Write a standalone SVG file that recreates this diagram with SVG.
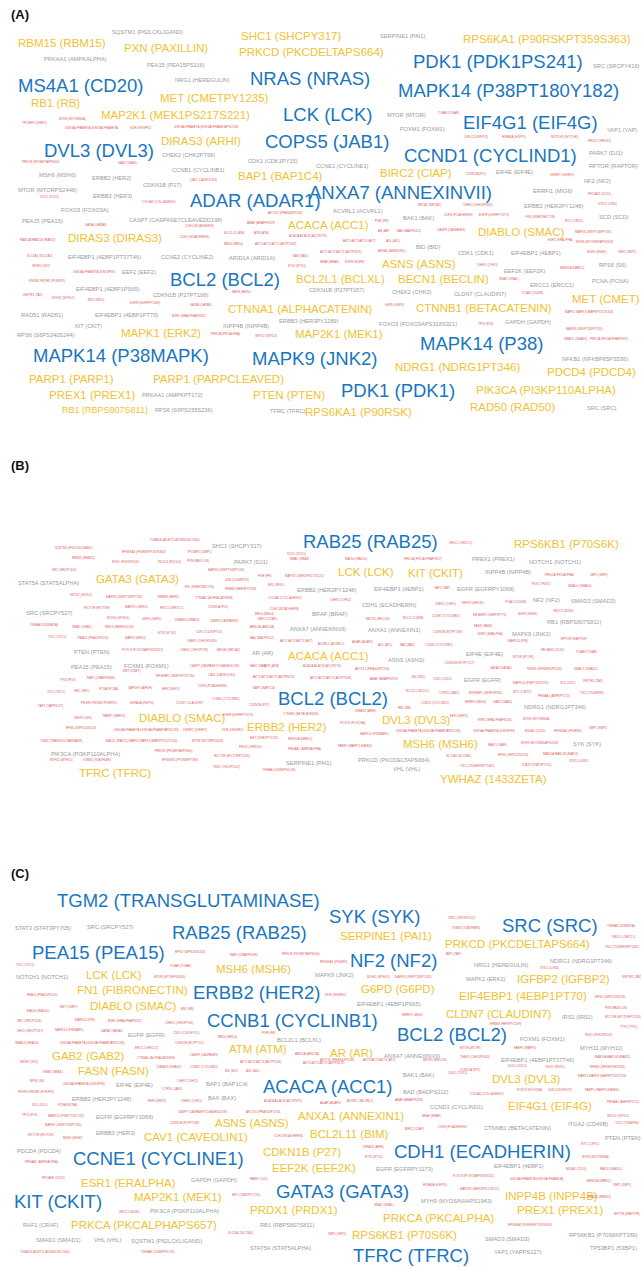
<svg xmlns="http://www.w3.org/2000/svg" width="641" height="1268" viewBox="0 0 641 1268">
<style>
text{font-family:"Liberation Sans",Arial,Helvetica,sans-serif}
.lbl{font-size:13px;font-weight:bold;fill:#111}
.b{font-size:18.5px;fill:#1976c0}
.y{font-size:11.5px;fill:#f2c231}
.g{font-size:5.7px;fill:#9a9a9a}
.r{font-size:3px;fill:#e0605e}
</style>
<rect width="641" height="1268" fill="#fff"/>
<g id="panelA">
<text class="lbl" x="11" y="19">(A)</text>
<text class="b" x="18" y="92">MS4A1 (CD20)</text>
<text class="b" x="250" y="85">NRAS (NRAS)</text>
<text class="b" x="413" y="68">PDK1 (PDK1PS241)</text>
<text class="b" x="398" y="97">MAPK14 (P38PT180Y182)</text>
<text class="b" x="283" y="121">LCK (LCK)</text>
<text class="b" x="463" y="129">EIF4G1 (EIF4G)</text>
<text class="b" x="44" y="157">DVL3 (DVL3)</text>
<text class="b" x="265" y="148">COPS5 (JAB1)</text>
<text class="b" x="404" y="162">CCND1 (CYCLIND1)</text>
<text class="b" x="190" y="207">ADAR (ADAR1)</text>
<text class="b" x="309" y="199">ANXA7 (ANNEXINVII)</text>
<text class="b" x="170" y="286">BCL2 (BCL2)</text>
<text class="b" x="33" y="362">MAPK14 (P38MAPK)</text>
<text class="b" x="252" y="365">MAPK9 (JNK2)</text>
<text class="b" x="420" y="350">MAPK14 (P38)</text>
<text class="b" x="341" y="397">PDK1 (PDK1)</text>
<text class="y" x="18" y="47">RBM15 (RBM15)</text>
<text class="y" x="124" y="52">PXN (PAXILLIN)</text>
<text class="y" x="241" y="40">SHC1 (SHCPY317)</text>
<text class="y" x="239" y="56">PRKCD (PKCDELTAPS664)</text>
<text class="y" x="463" y="43">RPS6KA1 (P90RSKPT359S363)</text>
<text class="y" x="31" y="107">RB1 (RB)</text>
<text class="y" x="160" y="102">MET (CMETPY1235)</text>
<text class="y" x="101" y="119">MAP2K1 (MEK1PS217S221)</text>
<text class="y" x="161" y="145">DIRAS3 (ARHI)</text>
<text class="y" x="238" y="180">BAP1 (BAP1C4)</text>
<text class="y" x="380" y="177">BIRC2 (CIAP)</text>
<text class="y" x="288" y="229">ACACA (ACC1)</text>
<text class="y" x="68" y="242">DIRAS3 (DIRAS3)</text>
<text class="y" x="478" y="236">DIABLO (SMAC)</text>
<text class="y" x="382" y="268">ASNS (ASNS)</text>
<text class="y" x="296" y="283">BCL2L1 (BCLXL)</text>
<text class="y" x="398" y="283">BECN1 (BECLIN)</text>
<text class="y" x="572" y="303">MET (CMET)</text>
<text class="y" x="228" y="313">CTNNA1 (ALPHACATENIN)</text>
<text class="y" x="416" y="312">CTNNB1 (BETACATENIN)</text>
<text class="y" x="121" y="337">MAPK1 (ERK2)</text>
<text class="y" x="295" y="338">MAP2K1 (MEK1)</text>
<text class="y" x="395" y="371">NDRG1 (NDRG1PT346)</text>
<text class="y" x="547" y="376">PDCD4 (PDCD4)</text>
<text class="y" x="29" y="383">PARP1 (PARP1)</text>
<text class="y" x="153" y="383">PARP1 (PARPCLEAVED)</text>
<text class="y" x="476" y="394">PIK3CA (PI3KP110ALPHA)</text>
<text class="y" x="49" y="399">PREX1 (PREX1)</text>
<text class="y" x="253" y="399">PTEN (PTEN)</text>
<text class="y" x="62" y="413" style="font-size:9px">RB1 (RBPS807S811)</text>
<text class="y" x="305" y="416">RPS6KA1 (P90RSK)</text>
<text class="y" x="470" y="411">RAD50 (RAD50)</text>
<text class="g" x="112" y="34">SQSTM1 (P62LCKLIGAND)</text>
<text class="g" x="380" y="38">SERPINE1 (PAI1)</text>
<text class="g" x="44" y="61">PRKAA1 (AMPKALPHA)</text>
<text class="g" x="147" y="67">PEA15 (PEA15PS116)</text>
<text class="g" x="593" y="68">SRC (SRCPY416)</text>
<text class="g" x="175" y="82">NRG1 (HEREGULIN)</text>
<text class="g" x="387" y="117">MTOR (MTOR)</text>
<text class="g" x="400" y="131">FOXM1 (FOXM1)</text>
<text class="g" x="607" y="132">YAP1 (YAP)</text>
<text class="g" x="589" y="155">PARK7 (DJ1)</text>
<text class="g" x="162" y="157">CHEK2 (CHK2PT68)</text>
<text class="g" x="248" y="163">CDK1 (CDK1PY15)</text>
<text class="g" x="316" y="168">CCNE1 (CYCLINE1)</text>
<text class="g" x="589" y="168">RPTOR (RAPTOR)</text>
<text class="g" x="172" y="172">CCNB1 (CYCLINB1)</text>
<text class="g" x="496" y="174">EIF4E (EIF4E)</text>
<text class="g" x="39" y="177">MSH6 (MSH6)</text>
<text class="g" x="92" y="180">ERBB2 (HER2)</text>
<text class="g" x="584" y="183">NF2 (NF2)</text>
<text class="g" x="143" y="187">CDKN1B (P27)</text>
<text class="g" x="18" y="192">MTOR (MTORPS2448)</text>
<text class="g" x="533" y="193">ERRFI1 (MIG6)</text>
<text class="g" x="93" y="198">ERBB3 (HER3)</text>
<text class="g" x="524" y="208">ERBB2 (HER2PY1248)</text>
<text class="g" x="61" y="212">FOXO3 (FOXO3A)</text>
<text class="g" x="333" y="213">ACVRL1 (ACVRL1)</text>
<text class="g" x="599" y="219">SCD (SCD)</text>
<text class="g" x="403" y="220">BAK1 (BAK)</text>
<text class="g" x="129" y="222">CASP7 (CASPASE7CLEAVEDD198)</text>
<text class="g" x="22" y="223">PEA15 (PEA15)</text>
<text class="g" x="416" y="249">BID (BID)</text>
<text class="g" x="458" y="255">CDK1 (CDK1)</text>
<text class="g" x="511" y="255">EIF4EBP1 (4EBP1)</text>
<text class="g" x="68" y="259">EIF4EBP1 (4EBP1PT37T46)</text>
<text class="g" x="161" y="259">CCNE2 (CYCLINE2)</text>
<text class="g" x="229" y="260">ARID1A (ARID1A)</text>
<text class="g" x="599" y="267">RPS6 (S6)</text>
<text class="g" x="504" y="273">EEF2K (EEF2K)</text>
<text class="g" x="122" y="274">EEF2 (EEF2)</text>
<text class="g" x="592" y="283">PCNA (PCNA)</text>
<text class="g" x="530" y="287">ERCC1 (ERCC1)</text>
<text class="g" x="76" y="291">EIF4EBP1 (4EBP1PS65)</text>
<text class="g" x="309" y="292">CDKN1B (P27PT157)</text>
<text class="g" x="392" y="294">CHEK2 (CHK2)</text>
<text class="g" x="454" y="296">CLDN7 (CLAUDIN7)</text>
<text class="g" x="153" y="297">CDKN1B (P27PT198)</text>
<text class="g" x="21" y="317">RAD51 (RAD51)</text>
<text class="g" x="95" y="317">EIF4EBP1 (4EBP1PT70)</text>
<text class="g" x="279" y="323">ERBB3 (HER3PY1289)</text>
<text class="g" x="505" y="324">GAPDH (GAPDH)</text>
<text class="g" x="379" y="326">FOXO3 (FOXO3APS318S321)</text>
<text class="g" x="75" y="328">KIT (CKIT)</text>
<text class="g" x="223" y="328">INPP4B (INPP4B)</text>
<text class="g" x="17" y="337">RPS6 (S6PS240S244)</text>
<text class="g" x="562" y="361">NFKB1 (NFKBP65PS536)</text>
<text class="g" x="142" y="397">PRKAA1 (AMPKPT172)</text>
<text class="g" x="587" y="410">SRC (SRC)</text>
<text class="g" x="155" y="412">RPS6 (S6PS235S236)</text>
<text class="g" x="270" y="413">TFRC (TFRC)</text>
<text class="r" x="22" y="124">TP53BP1 (53BP1)</text>
<text class="r" x="59" y="120">MYH9 (MYOSINIIA)</text>
<text class="r" x="65" y="129">GSK3ALPHABETA (GSK3ALPHABETA)</text>
<text class="r" x="130" y="129">KDR (VEGFR2)</text>
<text class="r" x="174" y="128">GSK3ALPHABETA (GSK3ALPHABETAPS21S9)</text>
<text class="r" x="22" y="163">PRKCB (PKCBETAIIPS660)</text>
<text class="r" x="118" y="164">GAB2 (GAB2)</text>
<text class="r" x="190" y="181">CAV1 (CAVEOLIN1)</text>
<text class="r" x="40" y="198">SCD1 (SCD1)</text>
<text class="r" x="142" y="203">COL6A1 (COLLAGENVI)</text>
<text class="r" x="438" y="114">TIGAR (TIGAR)</text>
<text class="r" x="464" y="138">JUN (CJUNPS73)</text>
<text class="r" x="502" y="138">HSPA1A (HSP70)</text>
<text class="r" x="551" y="138">NOTCH1 (NOTCH1)</text>
<text class="r" x="588" y="142">PRDX1 (PRDX1)</text>
<text class="r" x="466" y="175">CDKN1A (P21)</text>
<text class="r" x="550" y="176">IGFBP2 (IGFBP2)</text>
<text class="r" x="588" y="195">PECAM1 (CD31)</text>
<text class="r" x="268" y="214">AKT1S1 (PRAS40PT246)</text>
<text class="r" x="85" y="226">GATA6 (GATA6)</text>
<text class="r" x="247" y="224">ARAF (ARAFPS299)</text>
<text class="r" x="185" y="227">CDH1 (ECADHERIN)</text>
<text class="r" x="20" y="241">RAB11A RAB11B (RAB11)</text>
<text class="r" x="180" y="238">CDH2 (NCADHERIN)</text>
<text class="r" x="224" y="234">BCL2L11 (BIM)</text>
<text class="r" x="254" y="234">ATM (ATM)</text>
<text class="r" x="289" y="237">ACACA ACACB (ACCPS79)</text>
<text class="r" x="224" y="245">BRD4 (BRD4)</text>
<text class="r" x="255" y="245">AKT1 AKT2 AKT3 (AKTPT308)</text>
<text class="r" x="27" y="257">SLC1A5 (SLC1A5)</text>
<text class="r" x="293" y="257">BAX (BAX)</text>
<text class="r" x="288" y="267">ETS1 (ETS1)</text>
<text class="r" x="32" y="267">SRSF1 (SF2)</text>
<text class="r" x="73" y="273">GSK3ALPHABETA (GSK3PS9)</text>
<text class="r" x="29" y="282">PIK3R1 PIK3R2 (PI3KP85)</text>
<text class="r" x="23" y="296">WWTR1 (TAZ)</text>
<text class="r" x="52" y="299">MYH11 (MYH11)</text>
<text class="r" x="88" y="301">IRS1 (IRS1)</text>
<text class="r" x="130" y="304">EGFR (EGFRPY1068)</text>
<text class="r" x="232" y="293">FASN (FASN)</text>
<text class="r" x="190" y="306">GATA3 (GATA3)</text>
<text class="r" x="172" y="317">ESR1 (ERALPHAPS118)</text>
<text class="r" x="211" y="335">PRKCA (PKCALPHA)</text>
<text class="r" x="255" y="337">SETD2 (SETD2)</text>
<text class="r" x="418" y="206">BRCA2 (BRCA2)</text>
<text class="r" x="463" y="206">CHEK1 (CHK1PS345)</text>
<text class="r" x="598" y="205">STK11 (LKB1)</text>
<text class="r" x="444" y="216">CDH3 (PCADHERIN)</text>
<text class="r" x="479" y="216">EGFR (EGFRPY1173)</text>
<text class="r" x="526" y="218">FN1 (FIBRONECTIN)</text>
<text class="r" x="565" y="222">MYC (CMYC)</text>
<text class="r" x="375" y="222">PGR (PR)</text>
<text class="r" x="378" y="232">AR (AR)</text>
<text class="r" x="397" y="232">BAD (BADPS112)</text>
<text class="r" x="437" y="231">CASP9 (CASPASE9)</text>
<text class="r" x="575" y="233">MAPK8 (JNKPT183PY185)</text>
<text class="r" x="343" y="242">AKT1 AKT2 AKT3 (AKT)</text>
<text class="r" x="386" y="242">AXL (AXL)</text>
<text class="r" x="548" y="241">ESR1 (ERALPHA)</text>
<text class="r" x="576" y="243">MYH9 (MYOSINIIAPS1943)</text>
<text class="r" x="320" y="253">AKT1 AKT2 AKT3 (AKTPS473)</text>
<text class="r" x="378" y="252">ANXA1 (ANNEXIN1)</text>
<text class="r" x="587" y="253">MSH2 (MSH2)</text>
<text class="r" x="618" y="253">XBP1 (XBP1)</text>
<text class="r" x="320" y="263">BRAF (BRAF)</text>
<text class="r" x="345" y="263">EGFR (EGFR)</text>
<text class="r" x="477" y="266">CHEK1 (CHK1)</text>
<text class="r" x="560" y="269">MRE11A (MRE11)</text>
<text class="r" x="499" y="280">SNAI1 (SNAIL)</text>
<text class="r" x="522" y="294">ITGA2 (CD49B)</text>
<text class="r" x="385" y="306">G6PD (G6PD)</text>
<text class="r" x="565" y="313">MAPK1 MAPK3 (MAPKPT202Y204)</text>
<text class="r" x="478" y="325">TP53 (P53)</text>
<text class="r" x="566" y="330">MAPK8 (JNKPT183PY185)</text>
<text class="r" x="564" y="340">SMAD1 (SMAD1)</text>
<text class="r" x="590" y="340">PRKCA (PKCALPHAPS657)</text>
</g>
<g id="panelB">
<text class="lbl" x="11" y="470">(B)</text>
<text class="b" x="303" y="548">RAB25 (RAB25)</text>
<text class="b" x="278" y="705">BCL2 (BCL2)</text>
<text class="y" x="96" y="583">GATA3 (GATA3)</text>
<text class="y" x="514" y="548">RPS6KB1 (P70S6K)</text>
<text class="y" x="338" y="576">LCK (LCK)</text>
<text class="y" x="408" y="577">KIT (CKIT)</text>
<text class="y" x="288" y="660">ACACA (ACC1)</text>
<text class="y" x="139" y="722">DIABLO (SMAC)</text>
<text class="y" x="247" y="731">ERBB2 (HER2)</text>
<text class="y" x="382" y="724">DVL3 (DVL3)</text>
<text class="y" x="403" y="748">MSH6 (MSH6)</text>
<text class="y" x="79" y="777">TFRC (TFRC)</text>
<text class="y" x="440" y="783">YWHAZ (1433ZETA)</text>
<text class="g" x="212" y="548">SHC1 (SHCPY317)</text>
<text class="g" x="234" y="564">PARK7 (DJ1)</text>
<text class="g" x="18" y="585">STAT5A (STAT5ALPHA)</text>
<text class="g" x="297" y="592">ERBB2 (HER2PY1248)</text>
<text class="g" x="26" y="615">SRC (SRCPY527)</text>
<text class="g" x="312" y="616">BRAF (BRAF)</text>
<text class="g" x="290" y="631">ANXA7 (ANNEXINVII)</text>
<text class="g" x="472" y="561">PREX1 (PREX1)</text>
<text class="g" x="529" y="564">NOTCH1 (NOTCH1)</text>
<text class="g" x="485" y="574">INPP4B (INPP4B)</text>
<text class="g" x="374" y="591">EIF4EBP1 (4EBP1)</text>
<text class="g" x="457" y="591">EGFR (EGFRPY1068)</text>
<text class="g" x="533" y="602">NF2 (NF2)</text>
<text class="g" x="571" y="603">SMAD3 (SMAD3)</text>
<text class="g" x="362" y="607">CDH1 (ECADHERIN)</text>
<text class="g" x="547" y="624">RB1 (RBPS807S811)</text>
<text class="g" x="368" y="632">ANXA1 (ANNEXIN1)</text>
<text class="g" x="512" y="636">MAPK9 (JNK2)</text>
<text class="g" x="74" y="654">PTEN (PTEN)</text>
<text class="g" x="252" y="655">AR (AR)</text>
<text class="g" x="71" y="669">PEA15 (PEA15)</text>
<text class="g" x="124" y="668">FOXM1 (FOXM1)</text>
<text class="g" x="51" y="756">PIK3CA (PI3KP110ALPHA)</text>
<text class="g" x="286" y="765">SERPINE1 (PAI1)</text>
<text class="g" x="388" y="662">ASNS (ASNS)</text>
<text class="g" x="466" y="656">EIF4E (EIF4E)</text>
<text class="g" x="464" y="682">EGFR (EGFR)</text>
<text class="g" x="524" y="709">NDRG1 (NDRG1PT346)</text>
<text class="g" x="573" y="746">SYK (SYK)</text>
<text class="g" x="358" y="762">PRKCD (PKCDELTAPS664)</text>
<text class="g" x="393" y="771">VHL (VHL)</text>
<text class="r" x="150" y="541">TUBA1B (ACETYLATUBULINLYS40)</text>
<text class="r" x="55" y="549">SQSTM1 (P62LCKLIGAND)</text>
<text class="r" x="122" y="553">RPS6KA1 (P90RSKPT359S363)</text>
<text class="r" x="187" y="553">TP53BP1 (53BP1)</text>
<text class="r" x="72" y="559">RBM15 (RBM15)</text>
<text class="r" x="112" y="563">PDK1 (PDK1PS241)</text>
<text class="r" x="158" y="563">PDCD4 (PDCD4)</text>
<text class="r" x="187" y="562">PXN (PAXILLIN)</text>
<text class="r" x="287" y="555">SCD1 (SCD1)</text>
<text class="r" x="52" y="571">SRC (SRCPY416)</text>
<text class="r" x="208" y="571">MAPK8 (JNKPT183PY185)</text>
<text class="r" x="290" y="560">NRAS (NRAS)</text>
<text class="r" x="225" y="581">JUN (CJUNPS73)</text>
<text class="r" x="258" y="577">PGR (PR)</text>
<text class="r" x="268" y="586">IRS1 (IRS1)</text>
<text class="r" x="285" y="577">MAP2K1 (MEK1PS217S221)</text>
<text class="r" x="185" y="588">FN1 (FIBRONECTIN)</text>
<text class="r" x="225" y="590">ERBB3 (HER3PY1289)</text>
<text class="r" x="70" y="596">SETD2 (SETD2)</text>
<text class="r" x="106" y="598">MAPK8 (JNKPT183PY185)</text>
<text class="r" x="158" y="598">ERBB3 (HER3)</text>
<text class="r" x="195" y="599">CTNNA1 (ALPHACATENIN)</text>
<text class="r" x="268" y="599">COL6A1 (COLLAGENVI)</text>
<text class="r" x="84" y="609">RICTOR (RICTOR)</text>
<text class="r" x="125" y="608">MAP2K1 (MEK1)</text>
<text class="r" x="160" y="609">ERCC1 (ERCC1)</text>
<text class="r" x="208" y="608">CDKN1A (P21)</text>
<text class="r" x="270" y="610">CDH2 (NCADHERIN)</text>
<text class="r" x="107" y="619">MYH11 (MYH11)</text>
<text class="r" x="142" y="620">G6PD (G6PD)</text>
<text class="r" x="175" y="621">DIRAS3 (DIRAS3)</text>
<text class="r" x="210" y="622">CASP8 (CASPASE8)</text>
<text class="r" x="255" y="615">BRD4 (BRD4)</text>
<text class="r" x="258" y="620">BIRC2 (CIAP)</text>
<text class="r" x="30" y="626">YWHAB (1433BETA)</text>
<text class="r" x="72" y="628">SNAI1 (SNAIL)</text>
<text class="r" x="105" y="628">NRG1 (HEREGULIN)</text>
<text class="r" x="250" y="628">ARID1A (ARID1A)</text>
<text class="r" x="196" y="633">CDK1 (CDK1PY15)</text>
<text class="r" x="158" y="634">ETS1 (ETS1)</text>
<text class="r" x="250" y="639">BAD (BADPS112)</text>
<text class="r" x="280" y="642">AKT1 AKT2 AKT3 (AKT)</text>
<text class="r" x="48" y="638">TSC1 (TSC1)</text>
<text class="r" x="78" y="639">PEA15 (PEA15PS116)</text>
<text class="r" x="125" y="639">MAPK1 (ERK2)</text>
<text class="r" x="187" y="642">CHEK1 (CHK1PS345)</text>
<text class="r" x="449" y="544">XRCC1 (XRCC1)</text>
<text class="r" x="345" y="560">RAD50 (RAD50)</text>
<text class="r" x="404" y="560">PRKCA (PKCALPHAPS657)</text>
<text class="r" x="545" y="576">PRKCA (PKCALPHA)</text>
<text class="r" x="590" y="576">XBP1 (XBP1)</text>
<text class="r" x="434" y="589">YAP1 (YAP)</text>
<text class="r" x="532" y="585">PDK1 (PDK1)</text>
<text class="r" x="568" y="587">SMAD4 (SMAD4)</text>
<text class="r" x="330" y="601">CHEK2 (CHK2)</text>
<text class="r" x="435" y="605">CHEK1 (CHK1)</text>
<text class="r" x="462" y="604">EEF2K (EEF2K)</text>
<text class="r" x="505" y="603">ITGA2 (CD49B)</text>
<text class="r" x="366" y="620">BECN1 (BECLIN)</text>
<text class="r" x="403" y="619">BCL2L11 (BIM)</text>
<text class="r" x="432" y="617">CCNE2 (CYCLINE2)</text>
<text class="r" x="473" y="616">EIF4EBP1 (4EBP1PT70)</text>
<text class="r" x="518" y="615">MSH2 (MSH2)</text>
<text class="r" x="553" y="612">XRCC5 (KU80)</text>
<text class="r" x="474" y="627">FASN (FASN)</text>
<text class="r" x="433" y="633">CDKN1B (P27PT198)</text>
<text class="r" x="478" y="635">ESR1 (ERALPHA)</text>
<text class="r" x="352" y="643">ADAR (ADAR1)</text>
<text class="r" x="378" y="646">AXL (AXL)</text>
<text class="r" x="400" y="646">BAX (BAX)</text>
<text class="r" x="425" y="646">CCNE1 (CYCLINE1)</text>
<text class="r" x="508" y="642">MAPK14 (P38)</text>
<text class="r" x="561" y="640">RPTOR (RAPTOR)</text>
<text class="r" x="318" y="645">ACVRL1 (ACVRL1)</text>
<text class="r" x="122" y="651">FOXO3 (FOXO3APS318S321)</text>
<text class="r" x="180" y="651">CHEK2 (CHK2PT68)</text>
<text class="r" x="217" y="651">BRCA2 (BRCA2)</text>
<text class="r" x="123" y="672">MET (CMET)</text>
<text class="r" x="190" y="667">CASP7 (CASPASE7CLEAVEDD198)</text>
<text class="r" x="250" y="667">BAK1 (BAK)</text>
<text class="r" x="264" y="667">ATM (ATM)</text>
<text class="r" x="303" y="667">ACACA ACACB (ACCPS79)</text>
<text class="r" x="60" y="681">TP53 (P53)</text>
<text class="r" x="87" y="679">RAF1 (CRAFPS338)</text>
<text class="r" x="156" y="677">EIF4EBP1 (4EBP1PT37T46)</text>
<text class="r" x="208" y="676">CAV1 (CAVEOLIN1)</text>
<text class="r" x="253" y="678">AKT1 AKT2 AKT3 (AKTPS473)</text>
<text class="r" x="310" y="679">AKT1 AKT2 AKT3 (AKTPT308)</text>
<text class="r" x="47" y="693">TSC1 (TSC1)</text>
<text class="r" x="74" y="692">SRC (SRC)</text>
<text class="r" x="99" y="690">PCNA (PCNA)</text>
<text class="r" x="128" y="689">GAPDH (GAPDH)</text>
<text class="r" x="162" y="690">EEF2 (EEF2)</text>
<text class="r" x="198" y="687">CDH3 (PCADHERIN)</text>
<text class="r" x="253" y="689">BAP1 (BAP1C4)</text>
<text class="r" x="38" y="707">YAP1 (YAPPS127)</text>
<text class="r" x="81" y="704">PIK3R1 PIK3R2 (PI3KP85)</text>
<text class="r" x="130" y="704">HSPA1A (HSP70)</text>
<text class="r" x="176" y="704">CLDN7 (CLAUDIN7)</text>
<text class="r" x="212" y="700">CCNB1 (CYCLINB1)</text>
<text class="r" x="249" y="706">CDKN1B (P27)</text>
<text class="r" x="74" y="719">SRSF1 (SF2)</text>
<text class="r" x="103" y="717">PARP1 (PARP1)</text>
<text class="r" x="223" y="716">EGFR (EGFRPY1173)</text>
<text class="r" x="283" y="715">CTNNB1 (BETACATENIN)</text>
<text class="r" x="66" y="729">RPS6 (S6PS240S244)</text>
<text class="r" x="114" y="731">GSK3ALPHABETA (GSK3ALPHABETAPS21S9)</text>
<text class="r" x="183" y="731">IGFBP2 (IGFBP2)</text>
<text class="r" x="222" y="731">KDR (VEGFR2)</text>
<text class="r" x="40" y="742">TGM2 (TRANSGLUTAMINASE)</text>
<text class="r" x="106" y="742">RAD51 (RAD51)</text>
<text class="r" x="129" y="742">MAPK1 MAPK3 (MAPKPT202Y204)</text>
<text class="r" x="192" y="742">MTOR (MTORPS2448)</text>
<text class="r" x="250" y="739">MET (CMETPY1235)</text>
<text class="r" x="288" y="740">MRE11A (MRE11)</text>
<text class="r" x="155" y="752">PRKCB (PKCBETAIIPS660)</text>
<text class="r" x="239" y="748">PRDX1 (PRDX1)</text>
<text class="r" x="288" y="750">PRKAA1 (AMPKALPHA)</text>
<text class="r" x="214" y="757">RICTOR (RICTORPT1135)</text>
<text class="r" x="162" y="761">RPS6KB1 (P70S6KPT389)</text>
<text class="r" x="50" y="761">MYH11 (MYH11)</text>
<text class="r" x="83" y="761">STMN1 (STATHMIN)</text>
<text class="r" x="213" y="768">YBX1 (YBX1PS102)</text>
<text class="r" x="262" y="771">YWHAE (1433EPSILON)</text>
<text class="r" x="541" y="651">PECAM1 (CD31)</text>
<text class="r" x="576" y="653">TIGAR (TIGAR)</text>
<text class="r" x="513" y="658">MTOR (MTOR)</text>
<text class="r" x="445" y="664">CDKN1B (P27PT157)</text>
<text class="r" x="490" y="669">GATA6 (GATA6)</text>
<text class="r" x="527" y="670">NFKB1 (NFKBP65PS536)</text>
<text class="r" x="574" y="670">SMAD1 (SMAD1)</text>
<text class="r" x="355" y="670">AKT1S1 (PRAS40PT246)</text>
<text class="r" x="370" y="680">ARAF (ARAFPS299)</text>
<text class="r" x="412" y="678">BID (BID)</text>
<text class="r" x="433" y="680">CDK1 (CDK1)</text>
<text class="r" x="513" y="684">MAPK14 (P38PT180Y182)</text>
<text class="r" x="560" y="684">SCD (SCD)</text>
<text class="r" x="583" y="682">WWTR1 (TAZ)</text>
<text class="r" x="406" y="692">BCL2L1 (BCLXL)</text>
<text class="r" x="439" y="694">COPS5 (JAB1)</text>
<text class="r" x="469" y="694">EIF4EBP1 (4EBP1PS65)</text>
<text class="r" x="513" y="693">MYC (CMYC)</text>
<text class="r" x="538" y="697">PRKAA1 (AMPKPT172)</text>
<text class="r" x="580" y="694">TSC2 (TUBERIN)</text>
<text class="r" x="421" y="704">CCND1 (CYCLIND1)</text>
<text class="r" x="465" y="703">ERRFI1 (MIG6)</text>
<text class="r" x="493" y="703">GAB2 (GAB2)</text>
<text class="r" x="398" y="709">RB1 (RB)</text>
<text class="r" x="355" y="712">DIRAS3 (ARHI)</text>
<text class="r" x="450" y="717">EEF2 (EEF2)</text>
<text class="r" x="478" y="721">ESR1 (ERALPHAPS118)</text>
<text class="r" x="523" y="720">MYH9 (MYOSINIIA)</text>
<text class="r" x="340" y="724">FOXO3 (FOXO3A)</text>
<text class="r" x="360" y="735">MAPK14 (P38MAPK)</text>
<text class="r" x="396" y="732">GSK3ALPHABETA (GSK3ALPHABETAPS21S9)</text>
<text class="r" x="473" y="732">GSK3ALPHABETA (GSK3PS9)</text>
<text class="r" x="525" y="732">MS4A1 (CD20)</text>
<text class="r" x="554" y="732">RPS6KA1 (P90RSK)</text>
<text class="r" x="589" y="729">XBP1 (XBP1)</text>
<text class="r" x="338" y="747">PARP1 (PARPCLEAVED)</text>
<text class="r" x="488" y="746">RAF1 (CRAF)</text>
<text class="r" x="521" y="744">MYH9 (MYOSINIIAPS1943)</text>
<text class="r" x="446" y="757">SLC1A5 (SLC1A5)</text>
<text class="r" x="498" y="756">RPS6 (S6PS235S236)</text>
<text class="r" x="543" y="755">RAB11A RAB11B (RAB11)</text>
<text class="r" x="460" y="767">TSC2 (TUBERINPT1462)</text>
<text class="r" x="522" y="766">STAT3 (STAT3PY705)</text>
<text class="r" x="569" y="762">STK11 (LKB1)</text>
</g>
<g id="panelC">
<text class="lbl" x="11" y="878">(C)</text>
<text class="b" x="57" y="907">TGM2 (TRANSGLUTAMINASE)</text>
<text class="b" x="172" y="939">RAB25 (RAB25)</text>
<text class="b" x="32" y="959">PEA15 (PEA15)</text>
<text class="b" x="193" y="999">ERBB2 (HER2)</text>
<text class="b" x="207" y="1027">CCNB1 (CYCLINB1)</text>
<text class="b" x="329" y="923">SYK (SYK)</text>
<text class="b" x="502" y="932">SRC (SRC)</text>
<text class="b" x="350" y="967">NF2 (NF2)</text>
<text class="b" x="397" y="1041">BCL2 (BCL2)</text>
<text class="b" x="263" y="1093">ACACA (ACC1)</text>
<text class="b" x="73" y="1165">CCNE1 (CYCLINE1)</text>
<text class="b" x="276" y="1198">GATA3 (GATA3)</text>
<text class="b" x="14" y="1208">KIT (CKIT)</text>
<text class="b" x="394" y="1158">CDH1 (ECADHERIN)</text>
<text class="b" x="353" y="1262">TFRC (TFRC)</text>
<text class="y" x="216" y="973">MSH6 (MSH6)</text>
<text class="y" x="86" y="979">LCK (LCK)</text>
<text class="y" x="77" y="994">FN1 (FIBRONECTIN)</text>
<text class="y" x="90" y="1010">DIABLO (SMAC)</text>
<text class="y" x="229" y="1053">ATM (ATM)</text>
<text class="y" x="52" y="1060">GAB2 (GAB2)</text>
<text class="y" x="78" y="1075">FASN (FASN)</text>
<text class="y" x="340" y="940">SERPINE1 (PAI1)</text>
<text class="y" x="445" y="948">PRKCD (PKCDELTAPS664)</text>
<text class="y" x="517" y="983">IGFBP2 (IGFBP2)</text>
<text class="y" x="361" y="993">G6PD (G6PD)</text>
<text class="y" x="459" y="1000">EIF4EBP1 (4EBP1PT70)</text>
<text class="y" x="446" y="1018">CLDN7 (CLAUDIN7)</text>
<text class="y" x="330" y="1057">AR (AR)</text>
<text class="y" x="298" y="1120">ANXA1 (ANNEXIN1)</text>
<text class="y" x="215" y="1127">ASNS (ASNS)</text>
<text class="y" x="144" y="1141">CAV1 (CAVEOLIN1)</text>
<text class="y" x="310" y="1138">BCL2L11 (BIM)</text>
<text class="y" x="263" y="1156">CDKN1B (P27)</text>
<text class="y" x="272" y="1172">EEF2K (EEF2K)</text>
<text class="y" x="81" y="1187">ESR1 (ERALPHA)</text>
<text class="y" x="134" y="1201">MAP2K1 (MEK1)</text>
<text class="y" x="250" y="1214">PRDX1 (PRDX1)</text>
<text class="y" x="71" y="1229">PRKCA (PKCALPHAPS657)</text>
<text class="y" x="492" y="1083">DVL3 (DVL3)</text>
<text class="y" x="508" y="1110">EIF4G1 (EIF4G)</text>
<text class="y" x="505" y="1200">INPP4B (INPP4B)</text>
<text class="y" x="517" y="1214">PREX1 (PREX1)</text>
<text class="y" x="383" y="1222">PRKCA (PKCALPHA)</text>
<text class="y" x="352" y="1239">RPS6KB1 (P70S6K)</text>
<text class="g" x="15" y="930">STAT3 (STAT3PY705)</text>
<text class="g" x="87" y="929">SRC (SRCPY527)</text>
<text class="g" x="16" y="979">NOTCH1 (NOTCH1)</text>
<text class="g" x="128" y="1037">EGFR (EGFR)</text>
<text class="g" x="277" y="1042">BCL2L1 (BCLXL)</text>
<text class="g" x="474" y="967">NRG1 (HEREGULIN)</text>
<text class="g" x="550" y="963">NDRG1 (NDRG1PT346)</text>
<text class="g" x="315" y="977">MAPK9 (JNK2)</text>
<text class="g" x="466" y="981">MAPK1 (ERK2)</text>
<text class="g" x="357" y="1006">EIF4EBP1 (4EBP1PS65)</text>
<text class="g" x="562" y="1019">IRS1 (IRS1)</text>
<text class="g" x="520" y="1041">FOXM1 (FOXM1)</text>
<text class="g" x="580" y="1050">MYH11 (MYH11)</text>
<text class="g" x="384" y="1058">ANXA7 (ANNEXINVII)</text>
<text class="g" x="501" y="1062">EIF4EBP1 (4EBP1PT37T46)</text>
<text class="g" x="116" y="1087">EIF4E (EIF4E)</text>
<text class="g" x="206" y="1086">BAP1 (BAP1C4)</text>
<text class="g" x="72" y="1101">ERBB2 (HER2PY1248)</text>
<text class="g" x="208" y="1100">BAX (BAX)</text>
<text class="g" x="96" y="1119">EGFR (EGFRPY1068)</text>
<text class="g" x="96" y="1135">ERBB3 (HER3)</text>
<text class="g" x="17" y="1153">PDCD4 (PDCD4)</text>
<text class="g" x="191" y="1182">GAPDH (GAPDH)</text>
<text class="g" x="150" y="1213">PIK3CA (PI3KP110ALPHA)</text>
<text class="g" x="23" y="1227">RAF1 (CRAF)</text>
<text class="g" x="260" y="1227">RB1 (RBPS807S811)</text>
<text class="g" x="36" y="1242">SMAD1 (SMAD1)</text>
<text class="g" x="94" y="1242">VHL (VHL)</text>
<text class="g" x="131" y="1243">SQSTM1 (P62LCKLIGAND)</text>
<text class="g" x="250" y="1250">STAT5A (STAT5ALPHA)</text>
<text class="g" x="403" y="1077">BAK1 (BAK)</text>
<text class="g" x="403" y="1094">BAD (BADPS112)</text>
<text class="g" x="430" y="1109">CCND1 (CYCLIND1)</text>
<text class="g" x="484" y="1130">CTNNB1 (BETACATENIN)</text>
<text class="g" x="568" y="1126">ITGA2 (CD49B)</text>
<text class="g" x="605" y="1140">PTEN (PTEN)</text>
<text class="g" x="376" y="1171">EGFR (EGFRPY1173)</text>
<text class="g" x="494" y="1168">EIF4EBP1 (4EBP1)</text>
<text class="g" x="421" y="1203">MYH9 (MYOSINIIAPS1943)</text>
<text class="g" x="485" y="1241">SMAD3 (SMAD3)</text>
<text class="g" x="569" y="1237">RPS6KB1 (P70S6KPT389)</text>
<text class="g" x="494" y="1254">YAP1 (YAPPS127)</text>
<text class="g" x="590" y="1250">TP53BP1 (53BP1)</text>
<text class="r" x="16" y="966">TSC1 (TSC1)</text>
<text class="r" x="175" y="953">RPS6 (S6PS240S244)</text>
<text class="r" x="230" y="956">RAF1 (CRAFPS338)</text>
<text class="r" x="282" y="955">PRKCB (PKCBETAIIPS660)</text>
<text class="r" x="170" y="967">TIGAR (TIGAR)</text>
<text class="r" x="154" y="978">MTOR (MTORPS2448)</text>
<text class="r" x="27" y="996">PEA15 (PEA15PS116)</text>
<text class="r" x="181" y="1010">RB1 (RB)</text>
<text class="r" x="27" y="1012">RAD50 (RAD50)</text>
<text class="r" x="60" y="1008">MET (CMET)</text>
<text class="r" x="17" y="1022">SRC (SRCPY416)</text>
<text class="r" x="75" y="1021">MAPK14 (P38)</text>
<text class="r" x="108" y="1022">ESR1 (ERALPHAPS118)</text>
<text class="r" x="17" y="1032">SHC1 (SHCPY317)</text>
<text class="r" x="55" y="1031">MAPK14 (P38MAPK)</text>
<text class="r" x="101" y="1032">GATA6 (GATA6)</text>
<text class="r" x="165" y="1024">CHEK2 (CHK2PT68)</text>
<text class="r" x="173" y="1034">CDK1 (CDK1PY15)</text>
<text class="r" x="262" y="1034">PGR (PR)</text>
<text class="r" x="15" y="1044">SMAD4 (SMAD4)</text>
<text class="r" x="60" y="1044">GSK3ALPHABETA (GSK3ALPHABETAPS21S9)</text>
<text class="r" x="175" y="1044">CDKN1B (P27PT157)</text>
<text class="r" x="218" y="1038">BRD4 (BRD4)</text>
<text class="r" x="135" y="1049">ERCC1 (ERCC1)</text>
<text class="r" x="190" y="1056">CASP9 (CASPASE9)</text>
<text class="r" x="295" y="1055">ARID1A (ARID1A)</text>
<text class="r" x="137" y="1059">CTNNA1 (ALPHACATENIN)</text>
<text class="r" x="240" y="1063">AKT1 AKT2 AKT3 (AKTPT308)</text>
<text class="r" x="303" y="1064">AKT1 AKT2 AKT3 (AKTPS473)</text>
<text class="r" x="20" y="1063">SRSF1 (SF2)</text>
<text class="r" x="157" y="1068">DIRAS3 (DIRAS3)</text>
<text class="r" x="190" y="1068">CCNE2 (CYCLINE2)</text>
<text class="r" x="43" y="1073">NRAS (NRAS)</text>
<text class="r" x="225" y="1072">BID (BID)</text>
<text class="r" x="246" y="1072">AXL (AXL)</text>
<text class="r" x="448" y="919">YBX1 (YBX1PS102)</text>
<text class="r" x="452" y="929">STMN1 (STATHMIN)</text>
<text class="r" x="607" y="927">YWHAB (1433BETA)</text>
<text class="r" x="612" y="938">XRCC1 (XRCC1)</text>
<text class="r" x="605" y="948">TSC2 (TUBERINPT1462)</text>
<text class="r" x="445" y="955">YAP1 (YAP)</text>
<text class="r" x="540" y="969">STK11 (LKB1)</text>
<text class="r" x="367" y="978">MYH11 (MYH11)</text>
<text class="r" x="395" y="978">MAPK8 (JNKPT183PY185)</text>
<text class="r" x="622" y="978">WWTR1 (TAZ)</text>
<text class="r" x="320" y="963">RPS6KA1 (P90RSK)</text>
<text class="r" x="325" y="996">KDR (VEGFR2)</text>
<text class="r" x="595" y="998">RPS6 (S6PS235S236)</text>
<text class="r" x="605" y="1009">PXN (PAXILLIN)</text>
<text class="r" x="605" y="1018">RICTOR (RICTORPT1135)</text>
<text class="r" x="620" y="1028">TTF1 (TTF1)</text>
<text class="r" x="402" y="1016">ERRFI1 (MIG6)</text>
<text class="r" x="490" y="1025">ERBB3 (HER3PY1289)</text>
<text class="r" x="585" y="1036">PDK1 (PDK1PS241)</text>
<text class="r" x="460" y="1049">MTOR (MTOR)</text>
<text class="r" x="514" y="1049">PARP1 (PARP1)</text>
<text class="r" x="460" y="1058">CHEK1 (CHK1PS345)</text>
<text class="r" x="595" y="1058">RAB11A RAB11B (RAB11)</text>
<text class="r" x="508" y="1067">SCD1 (SCD1)</text>
<text class="r" x="546" y="1068">PDK1 (PDK1)</text>
<text class="r" x="590" y="1068">NFKB1 (NFKBP65PS536)</text>
<text class="r" x="460" y="1071">CDKN1A (P21)</text>
<text class="r" x="320" y="1061">AKT1S1 (PRAS40PT246)</text>
<text class="r" x="363" y="1061">AKT1 AKT2 AKT3 (AKT)</text>
<text class="r" x="423" y="1061">BECN1 (BECLIN)</text>
<text class="r" x="30" y="1082">RPS6 (S6)</text>
<text class="r" x="63" y="1085">GSK3ALPHABETA (GSK3PS9)</text>
<text class="r" x="162" y="1090">COPS5 (JAB1)</text>
<text class="r" x="177" y="1082">CHEK2 (CHK2)</text>
<text class="r" x="18" y="1093">PIK3R1 PIK3R2 (PI3KP85)</text>
<text class="r" x="148" y="1102">EEF2 (EEF2)</text>
<text class="r" x="181" y="1102">CHEK1 (CHK1)</text>
<text class="r" x="264" y="1102">ACACA ACACB (ACCPS79)</text>
<text class="r" x="32" y="1106">SCD (SCD)</text>
<text class="r" x="58" y="1106">PCNA (PCNA)</text>
<text class="r" x="22" y="1116">TP53 (P53)</text>
<text class="r" x="48" y="1117">MAPK14 (P38PT180Y182)</text>
<text class="r" x="178" y="1113">CASP7 (CASPASE7CLEAVEDD198)</text>
<text class="r" x="246" y="1113">AKT1S1 (PRAS40PT246)</text>
<text class="r" x="45" y="1126">MAPK8 (JNKPT183PY185)</text>
<text class="r" x="170" y="1124">CDKN1B (P27PT198)</text>
<text class="r" x="28" y="1136">RICTOR (RICTOR)</text>
<text class="r" x="63" y="1139">MSH2 (MSH2)</text>
<text class="r" x="274" y="1137">CDH2 (NCADHERIN)</text>
<text class="r" x="25" y="1163">PRKAA1 (AMPKALPHA)</text>
<text class="r" x="42" y="1179">PECAM1 (CD31)</text>
<text class="r" x="250" y="1180">PARK7 (DJ1)</text>
<text class="r" x="232" y="1196">MET (CMETPY1235)</text>
<text class="r" x="119" y="1213">XRCC5 (KU80)</text>
<text class="r" x="228" y="1234">SLC1A5 (SLC1A5)</text>
<text class="r" x="20" y="1253">TUBA1B (ACETYLATUBULINLYS40)</text>
<text class="r" x="141" y="1253">YWHAE (1433EPSILON)</text>
<text class="r" x="448" y="1074">CDK1 (CDK1)</text>
<text class="r" x="578" y="1077">MAPK1 MAPK3 (MAPKPT202Y204)</text>
<text class="r" x="517" y="1091">FOXO3 (FOXO3A)</text>
<text class="r" x="548" y="1091">JUN (CJUNPS73)</text>
<text class="r" x="585" y="1091">PARP1 (PARPCLEAVED)</text>
<text class="r" x="470" y="1095">COL6A1 (COLLAGENVI)</text>
<text class="r" x="607" y="1103">PRKAA1 (AMPKPT172)</text>
<text class="r" x="320" y="1104">ADAR (ADAR1)</text>
<text class="r" x="347" y="1102">ACVRL1 (ACVRL1)</text>
<text class="r" x="395" y="1101">ARAF (ARAFPS299)</text>
<text class="r" x="422" y="1117">BRAF (BRAF)</text>
<text class="r" x="607" y="1117">SETD2 (SETD2)</text>
<text class="r" x="615" y="1124">TSC2 (TUBERIN)</text>
<text class="r" x="405" y="1130">BIRC2 (CIAP)</text>
<text class="r" x="438" y="1128">CDH3 (PCADHERIN)</text>
<text class="r" x="363" y="1148">DIRAS3 (ARHI)</text>
<text class="r" x="581" y="1145">MYC (CMYC)</text>
<text class="r" x="365" y="1158">ETS1 (ETS1)</text>
<text class="r" x="582" y="1158">MYH9 (MYOSINIIA)</text>
<text class="r" x="453" y="1177">FOXO3 (FOXO3APS318S321)</text>
<text class="r" x="566" y="1170">MS4A1 (CD20)</text>
<text class="r" x="600" y="1170">RAD51 (RAD51)</text>
<text class="r" x="510" y="1180">GSK3ALPHABETA (GSK3ALPHABETA)</text>
<text class="r" x="587" y="1182">MRE11A (MRE11)</text>
<text class="r" x="423" y="1186">HSPA1A (HSP70)</text>
<text class="r" x="460" y="1190">MAP2K1 (MEK1PS217S221)</text>
<text class="r" x="613" y="1186">XBP1 (XBP1)</text>
<text class="r" x="588" y="1198">RBM15 (RBM15)</text>
<text class="r" x="374" y="1206">SNAI1 (SNAIL)</text>
<text class="r" x="614" y="1215">RPTOR (RAPTOR)</text>
<text class="r" x="508" y="1226">RPS6KA1 (P90RSKPT359S363)</text>
<text class="r" x="328" y="1235">XBP1 (XBP1)</text>
</g>
</svg>
